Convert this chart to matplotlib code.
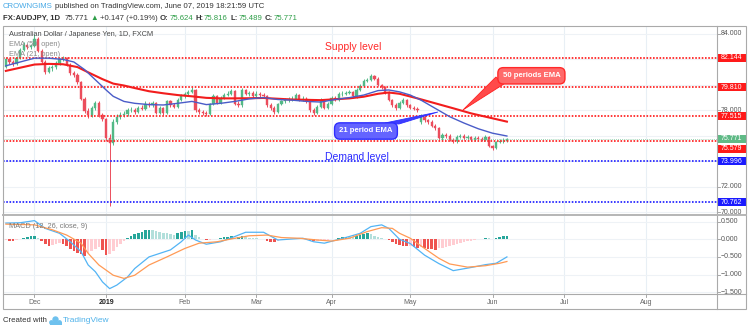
# -*- coding: utf-8 -*-
"""AUD/JPY daily chart: candles, EMA 21/50, supply/demand levels and a MACD pane"""
import numpy as np
import pandas as pd
import matplotlib
matplotlib.use('Agg')
from matplotlib import pyplot as plt
from matplotlib.patches import Rectangle, Polygon, Circle

plt.rcParams['font.family'] = ['Liberation Sans', 'DejaVu Sans']

############################# values ###################################################

first_open = 81.40
gap_opens = {116: 77.10}

closes = [82.00, 81.80, 81.65, 82.10, 82.75, 83.10, 82.95, 83.05, 83.60, 82.70,
          81.80, 81.00, 81.30, 81.40, 81.70, 82.00, 82.10, 81.60, 80.90, 80.80,
          80.20, 78.90, 77.95, 77.60, 78.20, 78.60, 77.60, 77.30, 75.80, 75.40,
          77.10, 77.50, 77.60, 77.70, 78.00, 78.05, 77.90, 78.20, 78.10, 78.50,
          78.40, 78.55, 77.80, 78.20, 77.80, 78.70, 78.40, 78.30, 78.80, 79.10,
          79.30, 79.45, 79.60, 78.00, 77.90, 77.80, 77.70, 78.50, 79.10, 78.60,
          79.00, 79.20, 79.30, 79.50, 78.50, 78.40, 79.60, 79.30, 79.40, 79.10,
          79.30, 79.20, 79.10, 78.40, 78.20, 77.90, 78.50, 78.70, 78.80, 78.90,
          78.90, 79.20, 78.80, 78.90, 78.70, 78.00, 77.80, 78.30, 78.80, 78.20,
          78.50, 79.00, 78.80, 79.30, 79.30, 79.40, 79.45, 79.10, 79.60, 79.90,
          80.30, 80.40, 80.70, 80.50, 80.00, 79.80, 79.40, 78.80, 78.40, 78.20,
          78.60, 78.80, 78.40, 78.20, 78.10, 78.00, 77.50, 77.20, 77.10, 76.80,
          76.60, 75.80, 76.05, 76.00, 75.70, 75.55, 75.90, 76.00, 75.80, 75.90,
          75.70, 75.80, 75.75, 75.70, 75.90, 75.20, 75.05, 75.50, 75.60, 75.624,
          75.771]

highs = [82.20, 82.15, 81.95, 82.25, 82.90, 83.35, 83.25, 83.20, 84.00, 83.75,
         82.80, 81.95, 81.45, 81.60, 81.85, 82.15, 82.30, 82.20, 81.70, 81.10,
         80.95, 80.30, 79.05, 78.20, 78.35, 78.75, 78.70, 77.80, 77.40, 76.10,
         77.30, 77.70, 77.85, 77.95, 78.20, 78.30, 78.20, 78.35, 78.40, 78.75,
         78.65, 78.70, 78.65, 78.35, 78.30, 78.85, 78.80, 78.55, 78.95, 79.25,
         79.45, 79.60, 79.80, 79.70, 78.15, 78.05, 77.95, 78.60, 79.25, 79.20,
         79.15, 79.35, 79.50, 79.65, 79.60, 78.70, 79.75, 79.70, 79.55, 79.50,
         79.50, 79.45, 79.35, 79.20, 78.55, 78.35, 78.60, 78.85, 78.95, 79.05,
         79.10, 79.35, 79.30, 79.10, 79.05, 78.80, 78.15, 78.45, 78.95, 78.90,
         78.65, 79.15, 79.15, 79.45, 79.50, 79.55, 79.60, 79.55, 79.75, 80.05,
         80.45, 80.55, 80.85, 80.80, 80.60, 80.10, 79.90, 79.50, 78.90, 78.55,
         78.75, 78.95, 78.90, 78.50, 78.35, 78.25, 77.70, 77.60, 77.35, 77.20,
         76.95, 76.70, 76.20, 76.25, 76.10, 75.85, 76.05, 76.15, 76.10, 76.05,
         76.00, 75.95, 75.95, 75.90, 76.05, 75.95, 75.30, 75.60, 75.75, 75.80,
         75.816]

lows = [81.30, 81.65, 81.50, 81.55, 82.00, 82.65, 82.80, 82.85, 83.00, 82.55,
        81.70, 80.85, 80.90, 81.10, 81.25, 81.60, 81.90, 81.50, 80.80, 80.60,
        80.10, 78.80, 77.80, 77.40, 77.50, 78.05, 77.45, 77.15, 75.60, 70.45,
        75.30, 76.95, 77.35, 77.45, 77.55, 77.85, 77.70, 77.80, 78.00, 78.00,
        78.25, 78.30, 77.70, 77.70, 77.65, 77.70, 78.30, 78.15, 78.20, 78.70,
        79.00, 79.20, 79.35, 77.90, 77.75, 77.65, 77.55, 77.60, 78.40, 78.50,
        78.50, 78.90, 79.10, 79.20, 78.40, 78.25, 78.30, 79.20, 79.15, 79.00,
        79.00, 79.05, 78.95, 78.30, 78.05, 77.75, 77.80, 78.40, 78.60, 78.65,
        78.70, 78.80, 78.70, 78.70, 78.55, 77.90, 77.65, 77.70, 78.20, 78.10,
        78.10, 78.40, 78.70, 78.70, 79.15, 79.20, 79.30, 79.00, 79.00, 79.50,
        79.80, 80.20, 80.30, 80.40, 79.90, 79.70, 79.30, 78.70, 78.30, 78.05,
        78.10, 78.50, 78.30, 78.10, 78.00, 77.90, 76.95, 77.10, 76.95, 76.70,
        76.45, 75.65, 75.70, 75.85, 75.60, 75.40, 75.45, 75.80, 75.70, 75.70,
        75.60, 75.60, 75.65, 75.60, 75.60, 75.10, 74.90, 74.95, 75.40, 75.45,
        75.489]

# EMA lines, read at the listed bar numbers
ema21_idx = [0, 4, 8, 12, 16, 19, 22, 25, 28, 30, 33, 36, 40, 44, 48, 52, 56, 60, 64, 68,
             72, 76, 80, 84, 88, 92, 96, 100, 104, 107, 110, 113, 116, 120, 124, 128, 132, 136, 140]
ema21_val = [81.5, 81.8, 82.1, 82.1, 82.0, 81.8, 81.2, 80.4, 79.6, 79.1, 78.7, 78.55, 78.45, 78.42,
             78.55, 78.7, 78.45, 78.55, 78.7, 78.9, 79.0, 78.85, 78.8, 78.7, 78.65, 78.85, 79.0,
             79.2, 79.55, 79.6, 79.45, 79.2, 78.8, 78.15, 77.5, 77.0, 76.55, 76.2, 75.98]
ema50_idx = [0, 4, 8, 12, 16, 20, 24, 27, 30, 33, 36, 40, 44, 48, 52, 56, 60, 64, 68, 72,
             80, 88, 96, 100, 104, 107, 110, 115, 120, 125, 130, 134, 138, 140]
ema50_val = [81.1, 81.35, 81.6, 81.65, 81.62, 81.4, 80.85, 80.45, 80.1, 79.95, 79.75, 79.5, 79.34,
             79.2, 79.1, 78.98, 78.94, 78.94, 78.95, 78.97, 78.85, 78.8, 78.94, 79.07, 79.3, 79.4,
             79.3, 78.94, 78.55, 78.16, 77.76, 77.5, 77.24, 77.11]

# MACD (12, 26, close, 9)
macd_idx = [0, 4, 8, 11, 15, 18, 21, 23, 25, 27, 29, 31, 34, 36, 40, 43, 46, 49, 51, 53, 56, 60,
            64, 67, 72, 76, 80, 83, 86, 89, 92, 96, 99, 102, 105, 107, 110, 113, 117, 121, 125,
            130, 134, 137, 140]
macd_val = [0.46, 0.47, 0.53, 0.31, 0.17, -0.07, -0.35, -0.73, -0.92, -1.21, -1.40, -1.30, -1.07,
            -0.83, -0.50, -0.40, -0.30, -0.07, 0.12, -0.02, -0.14, -0.07, 0.08, 0.20, 0.20, -0.02,
            0.01, 0.03, -0.07, -0.11, -0.03, 0.08, 0.17, 0.36, 0.41, 0.31, 0.00, -0.12, -0.45,
            -0.69, -0.89, -0.80, -0.72, -0.68, -0.50]
signal_idx = [0, 8, 13, 17, 21, 23, 26, 30, 33, 36, 40, 45, 50, 54, 59, 64, 68, 73, 77, 82, 87,
              91, 96, 101, 105, 108, 110, 113, 117, 121, 124, 129, 134, 138, 140]
signal_val = [0.43, 0.41, 0.27, 0.12, -0.11, -0.40, -0.73, -1.02, -1.11, -1.02, -0.73, -0.50,
              -0.26, -0.11, -0.07, 0.03, 0.10, 0.12, 0.05, 0.03, -0.02, -0.05, 0.03, 0.22, 0.33,
              0.31, 0.17, 0.03, -0.26, -0.54, -0.70, -0.79, -0.75, -0.68, -0.63]
hist = [-0.03, -0.04, -0.05, -0.03, 0.01, 0.04, 0.06, 0.08, 0.10, 0.04,
        -0.05, -0.14, -0.20, -0.16, -0.12, -0.10, -0.14, -0.20, -0.27, -0.33,
        -0.38, -0.43, -0.47, -0.40, -0.33, -0.28, -0.22, -0.30, -0.45, -0.42,
        -0.32, -0.22, -0.12, -0.04, 0.04, 0.09, 0.14, 0.18, 0.22, 0.25,
        0.27, 0.25, 0.23, 0.21, 0.18, 0.17, 0.15, 0.13, 0.17, 0.21,
        0.24, 0.24, 0.25, 0.12, 0.06, 0.02, -0.01, -0.01, 0.00, 0.02,
        0.04, 0.06, 0.07, 0.08, 0.05, 0.07, 0.09, 0.07, 0.05, 0.04,
        0.03, 0.02, 0.01, -0.04, -0.07, -0.08, -0.05, -0.03, -0.02, 0.00,
        0.01, 0.02, 0.01, 0.02, 0.00, -0.04, -0.06, -0.04, -0.02, -0.02,
        -0.01, 0.00, 0.02, 0.04, 0.06, 0.07, 0.07, 0.06, 0.09, 0.12,
        0.15, 0.17, 0.14, 0.10, 0.07, 0.04, 0.02, -0.02, -0.08, -0.12,
        -0.16, -0.18, -0.20, -0.19, -0.22, -0.24, -0.22, -0.25, -0.27, -0.28,
        -0.29, -0.26, -0.24, -0.22, -0.20, -0.17, -0.14, -0.11, -0.08, -0.06,
        -0.04, -0.02, 0.00, 0.02, 0.03, 0.03, 0.02, 0.05, 0.07, 0.09,
        0.10]

supply_levels = [82.144, 79.810, 77.515, 75.579]
demand_levels = [73.996, 70.762]
last_price = 75.771
price_ticks = [70, 72, 74, 76, 78, 80, 82, 84]
shown_price_ticks = [70, 72, 78, 84]     # the rest sit under the level boxes
macd_ticks = [0.5, 0.0, -0.5, -1.0, -1.5]

##################################################################################

W, H = 750, 331
UP, DOWN = '#53b987', '#eb4d5c'
PX_PER_UNIT = 12.72


def fpos(x, y):
    # figure pixel (from top-left) -> figure fraction
    return x / W, 1 - y / H


def px2data(x, y):
    # pixel position inside the price pane -> (bar, price)
    return (x - 5.8) / 3.58, 84 - (y - 34) / PX_PER_UNIT


fig = plt.figure(figsize=(W / 100, H / 100), dpi=100)
fig.patch.set_facecolor('white')

ax = fig.add_axes([3 / W, 1 - 215 / H, 714 / W, 189 / H])
axm = fig.add_axes([3 / W, 1 - 294 / H, 714 / W, 79 / H])
axd = fig.add_axes([3 / W, 1 - 309 / H, 714 / W, 15 / H])
axs = fig.add_axes([717 / W, 1 - 215 / H, 29 / W, 189 / H])
axms = fig.add_axes([717 / W, 1 - 294 / H, 29 / W, 79 / H])
for a in (ax, axm, axd, axs, axms):
    a.set_axis_off()
    a.patch.set_alpha(0)

xlim = (-0.8, 198.7)
plim = (84 - 181 / PX_PER_UNIT, 84 + 8 / PX_PER_UNIT)
mlim = (-1.553, 0.69)
for a in (ax, axm, axd):
    a.set_xlim(*xlim)
ax.set_ylim(*plim)
axs.set_ylim(*plim)
axm.set_ylim(*mlim)
axms.set_ylim(*mlim)
axs.set_xlim(0, 29)
axms.set_xlim(0, 29)
axd.set_ylim(15, 0)

# trading days (FXCM skips Christmas and New Year)
days = pd.bdate_range('2018-11-21', '2019-08-30')
days = days[~days.isin(pd.to_datetime(['2018-12-25', '2019-01-01']))]
months = np.asarray(days.month)
month_idx = np.flatnonzero(months[1:] != months[:-1]) + 1
month_lbl = ['2019' if days[i].month == 1 else days[i].strftime('%b') for i in month_idx]

# grid
for a in (ax, axm):
    for m in month_idx:
        a.axvline(m, color='#e8eff5', lw=0.8, zorder=0)
for p in price_ticks:
    ax.axhline(p, color='#eef2f6', lw=0.8, zorder=0)
for v in macd_ticks:
    axm.axhline(v, color='#eef2f6', lw=0.8, zorder=0)

# candles
n = len(closes)
xb = np.arange(n)
opens = [first_open] + closes[:-1]
for k, v in gap_opens.items():
    opens[k] = v
o = np.array(opens)
c = np.array(closes)
ccol = np.where(c >= o, UP, DOWN)
ax.vlines(xb, lows, highs, colors=ccol, lw=0.7, zorder=2)
ax.bar(xb, np.abs(c - o), bottom=np.minimum(o, c), width=0.62, color=ccol,
       edgecolor=ccol, lw=0.3, zorder=2.1)

# level lines
for lv in supply_levels:
    ax.axhline(lv, color='#ff2626', lw=1.3, ls=(0, (0.9, 0.9)), zorder=2.5)
for lv in demand_levels:
    ax.axhline(lv, color='#2a2aff', lw=1.3, ls=(0, (0.9, 0.9)), zorder=2.5)
ax.axhline(last_price, color='#7cc79c', lw=0.6, ls=(0, (1, 1.5)), zorder=2.4)

# EMAs
ax.plot(ema50_idx, ema50_val, color='#f21d1d', lw=1.5, zorder=3)
ax.plot(ema21_idx, ema21_val, color='#4a5cc8', lw=1.0, zorder=3.1)

ax.text(89.2, 82.98, 'Supply level', color='#ff2a2a', fontsize=7.5, va='center', ha='left', zorder=5)
ax.text(89.2, 74.33, 'Demand level', color='#2a2aff', fontsize=7.5, va='center', ha='left', zorder=5)

# callouts
ax.add_patch(Polygon([px2data(463, 110), px2data(496, 77), px2data(504, 84)],
                     closed=True, fc='#ff4a4a', ec='#ff2020', lw=0.6, zorder=5))
ax.text(*px2data(531.5, 75.8), '50 periods EMA', color='white', fontsize=5.6, fontweight='bold',
        ha='center', va='center', zorder=6,
        bbox=dict(boxstyle='round,pad=0.6,rounding_size=0.7', fc='#ff6a6a', ec='#ff2a2a', lw=1))
ax.add_patch(Polygon([px2data(438, 112), px2data(385, 123), px2data(399, 124)],
                     closed=True, fc='#3d3dff', ec='#2e2eff', lw=0.6, zorder=5))
ax.text(*px2data(366, 131), '21 period EMA', color='white', fontsize=5.6, fontweight='bold',
        ha='center', va='center', zorder=6,
        bbox=dict(boxstyle='round,pad=0.6,rounding_size=0.7', fc='#6464ff', ec='#2e2eff', lw=1))

# MACD pane
h = np.array(hist)
prev = np.r_[h[0], h[:-1]]
hcol = np.where(h >= 0, np.where(h > prev, '#26a69a', '#b2dfdb'),
                np.where(h < prev, '#ef5350', '#ffcdd2'))
axm.bar(xb, h, width=0.72, color=hcol, zorder=2)
axm.plot(macd_idx, macd_val, color='#52b4f5', lw=0.9, zorder=3)
axm.plot(signal_idx, signal_val, color='#ff9a55', lw=0.9, zorder=3)

# price scale (TradingView nudges a label down when two boxes collide)
box_h = 8 / PX_PER_UNIT
label_nudge_px = {75.579: 7.5}
for p in price_ticks:
    axs.plot([0, 2.5], [p, p], color='#999999', lw=0.6)
for p in shown_price_ticks:
    axs.text(4, p, f'{p:.3f}', fontsize=5, color='#555555', va='center', ha='left', clip_on=True)
for lv, fc in [(l, '#ff1a1a') for l in supply_levels] + [(l, '#1a1aff') for l in demand_levels] \
        + [(last_price, '#5fba86')]:
    yc = lv - label_nudge_px.get(lv, 0) / PX_PER_UNIT
    axs.add_patch(Rectangle((0.8, yc - box_h / 2), 28, box_h, fc=fc, ec='none', zorder=4))
    axs.text(4, yc, f'{lv:.3f}', fontsize=5, color='white', va='center', ha='left', zorder=5)

for v in macd_ticks:
    axms.plot([0, 2.5], [v, v], color='#999999', lw=0.6)
    axms.text(4, v, f'{v:.3f}'.replace('-', '\u2212'), fontsize=5, color='#555555',
              va='center', ha='left', clip_on=True)

# date strip
for m, lbl in zip(month_idx, month_lbl):
    if m > xlim[1]:
        continue
    axd.plot([m, m], [0, 2.5], color='#999999', lw=0.6)
    axd.text(m, 8, lbl, fontsize=5, ha='center', va='center',
             color='#222222' if lbl == '2019' else '#666666',
             fontweight='bold' if lbl == '2019' else 'normal')

# frame lines
frame = dict(color='#aaaaaa', lw=0.8, transform=fig.transFigure)
fig.add_artist(Rectangle(fpos(3, 309), 743 / W, 283 / H, fill=False, ec='#aaaaaa', lw=0.8,
                         transform=fig.transFigure))
fig.add_artist(plt.Line2D([717 / W, 717 / W], [fpos(0, 26)[1], fpos(0, 309)[1]], **frame))
fig.add_artist(plt.Line2D([3 / W, 746 / W], [fpos(0, 215)[1]] * 2, color='#b5b5b5', lw=1.4,
                          transform=fig.transFigure))
fig.add_artist(plt.Line2D([3 / W, 746 / W], [fpos(0, 294)[1]] * 2, **frame))

# pane titles
fig.text(*fpos(9, 35), 'Australian Dollar / Japanese Yen, 1D, FXCM', fontsize=5.3,
         color='#4a4a4a', va='center')
fig.text(*fpos(9, 45), 'EMA (50, open)', fontsize=5.3, color='#8a8a8a', va='center')
fig.text(*fpos(9, 55), 'EMA (21, open)', fontsize=5.3, color='#8a8a8a', va='center')
fig.text(*fpos(9, 226), 'MACD (12, 26, close, 9)', fontsize=5.3, color='#7a7a7a', va='center')

renderer = fig.canvas.get_renderer()


def run_text(x, y, parts, size):
    for s, col, wt, gap in parts:
        t = fig.text(*fpos(x, y), s, fontsize=size, color=col, fontweight=wt, va='center')
        x = t.get_window_extent(renderer=renderer).x1 + gap


G = '#2e9e48'
D = '#333333'
run_text(3, 7, [('CROWNGIMS', '#45a8e6', 'normal', 2.2),
                ('published on TradingView.com, June 07, 2019 18:21:59 UTC', D, 'normal', 0)], 5.6)
run_text(3, 18, [('FX:AUDJPY, 1D', D, 'bold', 4), ('75.771', D, 'normal', 2),
                 ('\u25b2', G, 'normal', 2), ('+0.147 (+0.19%)', D, 'normal', 2.5),
                 ('O:', D, 'bold', 0.5), ('75.624', G, 'normal', 2.5),
                 ('H:', D, 'bold', 0.5), ('75.816', G, 'normal', 2.5),
                 ('L:', D, 'bold', 0.5), ('75.489', G, 'normal', 2.5),
                 ('C:', D, 'bold', 0.5), ('75.771', G, 'normal', 0)], 5.6)

# footer with a small cloud mark
fig.text(*fpos(3, 321), 'Created with', fontsize=5.6, color=D, va='center')
cloud = '#6ec1ee'
for cx, cy, r in [(51.5, 322.5, 2.4), (55.5, 319.5, 3.2), (59.5, 322.5, 2.4)]:
    fig.add_artist(Circle((cx / 100, (H - cy) / 100), r / 100, fc=cloud, ec='none',
                          transform=fig.dpi_scale_trans))
fig.add_artist(Rectangle((49.5 / 100, (H - 325) / 100), 12 / 100, 3 / 100, fc=cloud, ec='none',
                         transform=fig.dpi_scale_trans))
fig.text(*fpos(63, 321), 'TradingView', fontsize=6, color='#4fb2ea', va='center')

fig.savefig('out.png', dpi=100, facecolor='white')
